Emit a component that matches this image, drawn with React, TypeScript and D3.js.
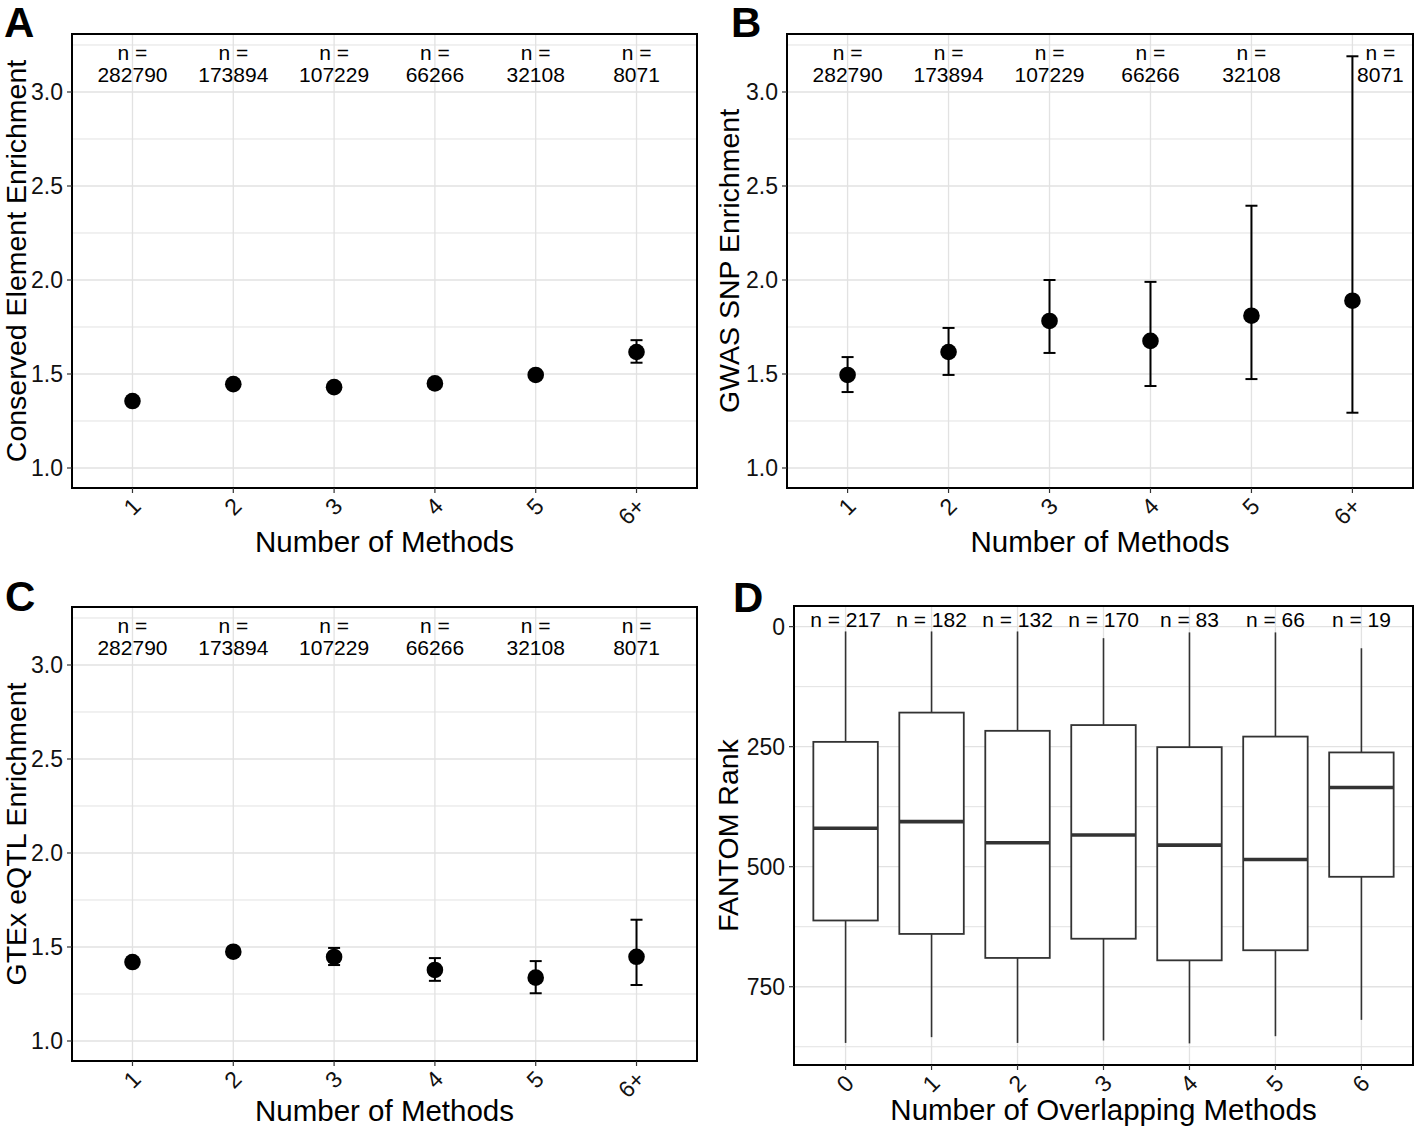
import React from 'react';
import * as d3 from 'd3';

// ---------- data ----------
const methods = ['1', '2', '3', '4', '5', '6+'];
const nCounts = ['282790', '173894', '107229', '66266', '32108', '8071'];

const consEst = [1.356, 1.446, 1.43, 1.45, 1.495, 1.617];
const consLo = [1.346, 1.436, 1.42, 1.44, 1.485, 1.56];
const consHi = [1.366, 1.456, 1.44, 1.46, 1.505, 1.68];

const gwasEst = [1.495, 1.617, 1.782, 1.676, 1.81, 1.89];
const gwasLo = [1.404, 1.495, 1.612, 1.436, 1.473, 1.294];
const gwasHi = [1.59, 1.745, 2.0, 1.99, 2.395, 3.19];

const eqtlEst = [1.42, 1.475, 1.447, 1.378, 1.337, 1.448];
const eqtlLo = [1.41, 1.465, 1.404, 1.32, 1.254, 1.298];
const eqtlHi = [1.43, 1.485, 1.495, 1.441, 1.425, 1.645];

const enrichTicks = [1.0, 1.5, 2.0, 2.5, 3.0];
const enrichMinor = [1.25, 1.75, 2.25, 2.75, 3.25];

const overlap = ['0', '1', '2', '3', '4', '5', '6'];
const nOverlap = [217, 182, 132, 170, 83, 66, 19];
const rankMin = [10, 10, 10, 24, 12, 12, 45];
const rankQ1 = [240, 179, 217, 205, 251, 229, 262];
const rankMed = [420, 406, 450, 434, 455, 485, 335];
const rankQ3 = [612, 640, 690, 650, 695, 674, 521];
const rankMax = [867, 855, 867, 862, 868, 853, 819];
const rankTicks = [0, 250, 500, 750];
const rankMinor = [125, 375, 625, 875];

// ---------- style ----------
const FONT = '"Liberation Sans", Arial, Helvetica, sans-serif';
const GRID = '#e2e2e2';
const TICK_FS = 23;
const TITLE_FS = 29.5;
const YTITLE_FS = 28.5;
const N_FS = 21;

type Box = { l: number; r: number; t: number; b: number };

function XTicks({ x, cats, box }: { x: any; cats: string[]; box: Box }) {
  return (
    <g>
      {cats.map((c) => (
        <g key={c}>
          <line x1={x(c)} x2={x(c)} y1={box.b} y2={box.b + 5} stroke="#333" strokeWidth={1.2} />
          <text
            transform={`translate(${x(c) + 4},${box.b + 14}) rotate(-45)`}
            textAnchor="end"
            dy="0.35em"
            fontSize={TICK_FS}
            fill="#111"
          >
            {c}
          </text>
        </g>
      ))}
    </g>
  );
}

function YTicks({ y, ticks, box, fmt }: { y: any; ticks: number[]; box: Box; fmt: (v: number) => string }) {
  return (
    <g>
      {ticks.map((t) => (
        <g key={t}>
          <line x1={box.l - 5} x2={box.l} y1={y(t)} y2={y(t)} stroke="#333" strokeWidth={1.2} />
          <text x={box.l - 9} y={y(t)} dy="0.36em" textAnchor="end" fontSize={TICK_FS} fill="#111">
            {fmt(t)}
          </text>
        </g>
      ))}
    </g>
  );
}

function Grid({ x, y, cats, major, minor, box }: any) {
  return (
    <g>
      {minor
        .filter((v: number) => y(v) >= box.t && y(v) <= box.b)
        .map((v: number) => (
          <line key={'mi' + v} x1={box.l} x2={box.r} y1={y(v)} y2={y(v)} stroke={GRID} strokeWidth={1} />
        ))}
      {major.map((v: number) => (
        <line key={'ma' + v} x1={box.l} x2={box.r} y1={y(v)} y2={y(v)} stroke={GRID} strokeWidth={1.3} />
      ))}
      {cats.map((c: string) => (
        <line key={'v' + c} x1={x(c)} x2={x(c)} y1={box.t} y2={box.b} stroke={GRID} strokeWidth={1.3} />
      ))}
    </g>
  );
}

function EnrichPanel({
  box,
  est,
  lo,
  hi,
  ylabel,
  letter,
  letterX,
  letterY,
  ylabX,
  xlabY,
  nudge,
}: {
  box: Box;
  est: number[];
  lo: number[];
  hi: number[];
  ylabel: string;
  letter: string;
  letterX: number;
  letterY: number;
  ylabX: number;
  xlabY: number;
  nudge: number[];
}) {
  const x = d3.scalePoint<string>().domain(methods).range([box.l, box.r]).padding(0.6);
  const yScale = d3.scaleLinear().domain([0.8936, 3.3085]).range([box.b, box.t]);
  const cap = 6;
  return (
    <g fontFamily={FONT}>
      <Grid x={x} y={yScale} cats={methods} major={enrichTicks} minor={enrichMinor} box={box} />
      {methods.map((m, i) => (
        <g key={m}>
          <line x1={x(m)} x2={x(m)} y1={yScale(lo[i])} y2={yScale(hi[i])} stroke="#000" strokeWidth={2} />
          <line x1={x(m)! - cap} x2={x(m)! + cap} y1={yScale(lo[i])} y2={yScale(lo[i])} stroke="#000" strokeWidth={2} />
          <line x1={x(m)! - cap} x2={x(m)! + cap} y1={yScale(hi[i])} y2={yScale(hi[i])} stroke="#000" strokeWidth={2} />
          <circle cx={x(m)} cy={yScale(est[i])} r={8.3} fill="#000" />
          <text x={x(m)! + nudge[i]} y={box.t + 26} textAnchor="middle" fontSize={N_FS} fill="#000">
            n =
          </text>
          <text x={x(m)! + nudge[i]} y={box.t + 48} textAnchor="middle" fontSize={N_FS} fill="#000">
            {nCounts[i]}
          </text>
        </g>
      ))}
      <rect x={box.l} y={box.t} width={box.r - box.l} height={box.b - box.t} fill="none" stroke="#000" strokeWidth={2} />
      <YTicks y={yScale} ticks={enrichTicks} box={box} fmt={(v) => d3.format('.1f')(v)} />
      <XTicks x={x} cats={methods} box={box} />
      <text x={(box.l + box.r) / 2} y={xlabY} textAnchor="middle" fontSize={TITLE_FS} fill="#000">
        Number of Methods
      </text>
      <text
        transform={`translate(${ylabX},${(box.t + box.b) / 2}) rotate(-90)`}
        textAnchor="middle"
        fontSize={YTITLE_FS}
        fill="#000"
      >
        {ylabel}
      </text>
      <text x={letterX} y={letterY} fontSize={42} fontWeight="bold" fill="#000">
        {letter}
      </text>
    </g>
  );
}

function RankPanel({ box }: { box: Box }) {
  const x = d3.scalePoint<string>().domain(overlap).range([box.l, box.r]).padding(0.6);
  const y = d3.scaleLinear().domain([-43, 913]).range([box.t, box.b]);
  const bw = x.step() * 0.75;
  const stroke = '#333';
  return (
    <g fontFamily={FONT}>
      <Grid x={x} y={y} cats={overlap} major={rankTicks} minor={rankMinor} box={box} />
      {overlap.map((c, i) => {
        const cx = x(c)!;
        return (
          <g key={c}>
            <line x1={cx} x2={cx} y1={y(rankMin[i])} y2={y(rankQ1[i])} stroke={stroke} strokeWidth={1.6} />
            <line x1={cx} x2={cx} y1={y(rankQ3[i])} y2={y(rankMax[i])} stroke={stroke} strokeWidth={1.6} />
            <rect
              x={cx - bw / 2}
              y={y(rankQ1[i])}
              width={bw}
              height={y(rankQ3[i]) - y(rankQ1[i])}
              fill="#fff"
              stroke={stroke}
              strokeWidth={1.8}
            />
            <line x1={cx - bw / 2} x2={cx + bw / 2} y1={y(rankMed[i])} y2={y(rankMed[i])} stroke={stroke} strokeWidth={3.6} />
            <text x={cx} y={y(0) + 0.5} textAnchor="middle" fontSize={N_FS} fill="#000">
              {`n = ${nOverlap[i]}`}
            </text>
          </g>
        );
      })}
      <rect x={box.l} y={box.t} width={box.r - box.l} height={box.b - box.t} fill="none" stroke="#000" strokeWidth={2} />
      <YTicks y={y} ticks={rankTicks} box={box} fmt={(v) => String(v)} />
      <XTicks x={x} cats={overlap} box={box} />
      <text x={(box.l + box.r) / 2} y={1120} textAnchor="middle" fontSize={TITLE_FS} fill="#000">
        Number of Overlapping Methods
      </text>
      <text
        transform={`translate(738,${(box.t + box.b) / 2}) rotate(-90)`}
        textAnchor="middle"
        fontSize={YTITLE_FS}
        fill="#000"
      >
        FANTOM Rank
      </text>
      <text x={733} y={612} fontSize={42} fontWeight="bold" fill="#000">
        D
      </text>
    </g>
  );
}

export default function App() {
  const noNudge = [0, 0, 0, 0, 0, 0];
  const bNudge = [0, 0, 0, 0, 0, 28];
  return (
    <svg
      width={1415}
      height={1128}
      style={{ position: 'absolute', left: 0, top: 0, background: '#fff' }}
    >
      <rect width={1415} height={1128} fill="#fff" />
      <EnrichPanel
        box={{ l: 72, r: 697, t: 34, b: 488 }}
        est={consEst}
        lo={consLo}
        hi={consHi}
        ylabel="Conserved Element Enrichment"
        letter="A"
        letterX={4}
        letterY={37}
        ylabX={26}
        xlabY={552}
        nudge={noNudge}
      />
      <EnrichPanel
        box={{ l: 787, r: 1413, t: 34, b: 488 }}
        est={gwasEst}
        lo={gwasLo}
        hi={gwasHi}
        ylabel="GWAS SNP Enrichment"
        letter="B"
        letterX={731}
        letterY={37}
        ylabX={739}
        xlabY={552}
        nudge={bNudge}
      />
      <EnrichPanel
        box={{ l: 72, r: 697, t: 607, b: 1061 }}
        est={eqtlEst}
        lo={eqtlLo}
        hi={eqtlHi}
        ylabel="GTEx eQTL Enrichment"
        letter="C"
        letterX={5}
        letterY={611}
        ylabX={26}
        xlabY={1121}
        nudge={noNudge}
      />
      <RankPanel box={{ l: 794, r: 1413, t: 606, b: 1065 }} />
    </svg>
  );
}
